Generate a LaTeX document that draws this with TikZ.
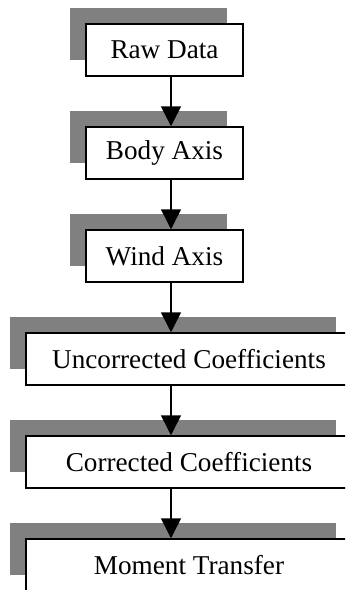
\documentclass[tikz,border=0pt]{standalone}
\usepackage{fontspec}
\setmainfont{Liberation Serif}
\usetikzlibrary{arrows.meta, shadows}

\begin{document}
\begin{tikzpicture}[x=0.5pt, y=-0.5pt,
    every node/.style={font=\fontsize{13.6}{16}\selectfont},
    stepbox/.style={draw, line width=0.75pt, fill=white, minimum height=26pt,
      drop shadow={shadow xshift=-8pt, shadow yshift=8pt, fill=gray, opacity=1}},
    flow/.style={-{Triangle[width=10pt, length=10pt]}, line width=0.75pt}]
  % page frame (boxes run past the right and bottom edges)
  \clip (0,0) rectangle (345,590);
  \coordinate (axis) at (171,0);

  % narrow boxes
  \node[stepbox, minimum width=78.5pt] (raw) at (164.5,50) {Raw Data};
  \node[stepbox, minimum width=78.5pt] (body) at (164.5,153) {Body Axis};
  \node[stepbox, minimum width=78.5pt] (wind) at (164.5,256) {Wind Axis};

  % wide boxes
  \node[stepbox, minimum width=163pt] (uncorr) at (189,359) {Uncorrected Coefficients};
  \node[stepbox, minimum width=163pt] (corr) at (189,462) {Corrected Coefficients};
  \node[stepbox, minimum width=163pt] (moment) at (189,565) {Moment Transfer};

  % arrows down the chain
  \draw[flow] (raw.south -| axis) -- (body.north -| axis);
  \draw[flow] (body.south -| axis) -- (wind.north -| axis);
  \draw[flow] (wind.south -| axis) -- (uncorr.north -| axis);
  \draw[flow] (uncorr.south -| axis) -- (corr.north -| axis);
  \draw[flow] (corr.south -| axis) -- (moment.north -| axis);
\end{tikzpicture}
\end{document}
